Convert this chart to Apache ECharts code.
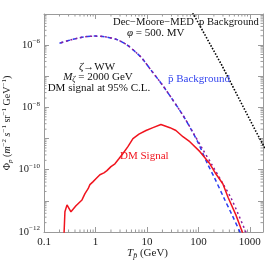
<!DOCTYPE html>
<html>
<head>
<meta charset="utf-8">
<script src="https://cdn.jsdelivr.net/npm/echarts@6/dist/echarts.min.js"></script>
<style>html,body{margin:0;padding:0;background:#fff}#c{width:267px;height:263px}</style>
</head>
<body>
<div id="c"></div>
<script>
// ---- data (energies in GeV, flux as log10 of value) ----
var bgE     = [0.2, 0.3, 0.5, 0.7, 1.0, 1.5, 2.5, 4, 6, 8, 12.5, 20, 30, 50, 76, 100, 153, 200, 320, 450, 668, 900];
var bgLog   = [-5.94, -5.85, -5.76, -5.72, -5.71, -5.73, -5.81, -5.98, -6.22, -6.42, -6.84, -7.28, -7.70, -8.25, -8.77, -9.15, -9.84, -10.22, -10.94, -11.45, -12.06, -12.5];
var totE    = [0.2, 0.3, 0.5, 0.7, 1.0, 1.5, 2.5, 4, 6, 8, 12.5, 20, 30, 50, 76, 120, 183, 300, 440, 863, 1000];
var totLog  = [-5.94, -5.85, -5.76, -5.72, -5.71, -5.73, -5.81, -5.98, -6.22, -6.42, -6.84, -7.28, -7.70, -8.25, -8.76, -9.33, -9.84, -10.45, -10.94, -12.06, -12.35];
var dmE     = [0.24, 0.245, 0.255, 0.28, 0.306, 0.334, 0.365, 0.418, 0.456, 0.547, 0.625, 0.72, 0.78, 0.89, 1.02, 1.22, 1.46, 1.67, 2.0, 2.39, 2.85, 3.42, 4.27, 5.35, 7, 9.6, 13.1, 18.7, 28, 36.6, 50, 68, 107, 167, 218, 298, 380, 535, 735, 800];
var dmLog   = [-12.6, -12.06, -11.35, -11.13, -11.19, -11.35, -11.29, -11.16, -11.10, -10.97, -10.77, -10.61, -10.48, -10.39, -10.29, -10.16, -10.10, -10.03, -9.90, -9.81, -9.65, -9.48, -9.26, -9.0, -8.86, -8.74, -8.65, -8.55, -8.65, -8.74, -8.94, -9.10, -9.42, -9.81, -10.13, -10.45, -10.90, -11.45, -12.06, -12.4];
var pE      = [50, 78, 286, 1310, 2000];
var pLog    = [-4.45, -4.97, -6.65, -8.77, -9.33];
var xMinorTicks = [0.2,0.3,0.4,0.5,0.6,0.7,0.8,0.9, 2,3,4,5,6,7,8,9, 20,30,40,50,60,70,80,90, 200,300,400,500,600,700,800,900];
var yDecades = [-12,-11,-10,-9,-8,-7,-6];
var yMinorMult = [2,3,4,5,6,7,8,9];

function pairs(xs, ls){ return xs.map(function(x,i){ return [x, Math.pow(10, ls[i])]; }); }

var minorData = [];
xMinorTicks.forEach(function(v){ minorData.push([v, 1e-12, 0]); });
yDecades.forEach(function(d){ yMinorMult.forEach(function(m){ minorData.push([0.1, m*Math.pow(10,d), 1]); }); });

var SERIF = '"Liberation Serif", "DejaVu Serif", serif';
var FRAME = '#9a9a9a';
var chart = echarts.init(document.getElementById('c'));

function isPow10(v){ var l = Math.log10(v); return Math.abs(l - Math.round(l)) < 1e-6; }

var axX = {
  type: 'log', logBase: 10, min: 0.1, max: 1800,
  axisLine: {show: true, lineStyle: {color: FRAME, width: 1}},
  axisTick: {show: true, inside: true, length: 5, lineStyle: {color: FRAME}},
  splitLine: {show: false}
};
var axY = {
  type: 'log', logBase: 10, min: 1e-12, max: 1e-5, interval: 1,
  axisLine: {show: true, lineStyle: {color: FRAME, width: 1}},
  axisTick: {show: true, inside: true, length: 5, lineStyle: {color: FRAME}},
  splitLine: {show: false}
};

chart.setOption({
  animation: false,
  backgroundColor: '#fff',
  grid: {left: 44, right: 4, top: 14, bottom: 31, containLabel: false, outerBoundsMode: 'none'},
  xAxis: [
    Object.assign({}, axX, {
      position: 'bottom',
      axisLabel: {show: true, margin: 5, fontFamily: SERIF, fontSize: 11, color: '#222',
        formatter: function(v){ return isPow10(v) ? String(+v.toPrecision(3)) : ''; }},
      name: '{i|T}{sub|p\u0304} (GeV)', nameLocation: 'middle', nameGap: 14, nameMoveOverlap: false,
      nameTextStyle: {fontFamily: SERIF, fontSize: 11, color: '#222', padding: [0, 12, 0, 0],
        rich: {i: {fontFamily: SERIF, fontSize: 11, fontStyle: 'italic', color: '#222'},
               sub: {fontFamily: SERIF, fontSize: 8, fontStyle: 'italic', color: '#222', padding: [6, 0, 0, 0]}}}
    }),
    Object.assign({}, axX, {position: 'top', axisLabel: {show: false}})
  ],
  yAxis: [
    Object.assign({}, axY, {
      position: 'left',
      axisLabel: {show: true, margin: 4, fontFamily: SERIF, fontSize: 10.5, color: '#222',
        formatter: function(v){ var e = Math.round(Math.log10(v)); return (e % 2 === 0) ? '{b|10}{s|\u2212' + (-e) + '}' : ''; },
        rich: {b: {fontFamily: SERIF, fontSize: 10.5, color: '#222'},
               s: {fontFamily: SERIF, fontSize: 7, color: '#222', padding: [0, 0, 7, 0]}}},
      name: '{b|\u03A6}{sub|p\u0304} ({i|m}{s|\u22122} {i|s}{s|\u22121} sr{s|\u22121} GeV{s|\u22121})',
      nameLocation: 'middle', nameRotate: 90, nameGap: 30, nameMoveOverlap: false,
      nameTextStyle: {fontFamily: SERIF, fontSize: 10, color: '#222',
        rich: {b: {fontFamily: SERIF, fontSize: 10, color: '#222'},
               i: {fontFamily: SERIF, fontSize: 10, fontStyle: 'italic', color: '#222'},
               sub: {fontFamily: SERIF, fontSize: 7, fontStyle: 'italic', color: '#222', padding: [6, 0, 0, 0]},
               s: {fontFamily: SERIF, fontSize: 7, color: '#222', padding: [0, 0, 6, 0]}}}
    }),
    Object.assign({}, axY, {position: 'right', axisLabel: {show: false}})
  ],
  series: [
    {
      type: 'custom', coordinateSystem: 'cartesian2d', xAxisIndex: 0, yAxisIndex: 0,
      silent: true, clip: false, z: 1, data: minorData,
      renderItem: function(params, api){
        var kind = api.value(2);
        var cs = params.coordSys;
        if (kind === 0) {
          var x = api.coord([api.value(0), 1e-12])[0];
          return {type: 'group', children: [
            {type: 'line', shape: {x1: x, y1: cs.y + cs.height, x2: x, y2: cs.y + cs.height - 2.5}, style: {stroke: FRAME, lineWidth: 1}},
            {type: 'line', shape: {x1: x, y1: cs.y, x2: x, y2: cs.y + 2.5}, style: {stroke: FRAME, lineWidth: 1}}
          ]};
        } else {
          var y = api.coord([0.1, api.value(1)])[1];
          return {type: 'group', children: [
            {type: 'line', shape: {x1: cs.x, y1: y, x2: cs.x + 2.5, y2: y}, style: {stroke: FRAME, lineWidth: 1}},
            {type: 'line', shape: {x1: cs.x + cs.width, y1: y, x2: cs.x + cs.width - 2.5, y2: y}, style: {stroke: FRAME, lineWidth: 1}}
          ]};
        }
      }
    },
    {
      name: 'p background', type: 'line', data: pairs(pE, pLog), showSymbol: false, clip: true, z: 3,
      lineStyle: {color: '#000', width: 1.6, type: [1.5, 1.6]}
    },
    {
      name: 'pbar background', type: 'line', data: pairs(bgE, bgLog), showSymbol: false, smooth: 0.3, clip: true, z: 3,
      lineStyle: {color: '#2a3cf0', width: 1.5, type: [4, 3]}
    },
    {
      name: 'total', type: 'line', data: pairs(totE, totLog), showSymbol: false, smooth: 0.3, clip: true, z: 4,
      lineStyle: {color: '#8a1fa0', width: 1.5, type: [2, 3], dashOffset: 3.5}
    },
    {
      name: 'DM signal', type: 'line', data: pairs(dmE, dmLog), showSymbol: false, clip: true, z: 5,
      lineStyle: {color: '#f0141e', width: 1.5}
    }
  ],
  graphic: [
    {type: 'text', left: 113, top: 17, z: 10, style: {text: 'Dec\u2212Moore\u2212MED  p Background', font: '10.6px ' + SERIF, fill: '#111'}},
    {type: 'text', left: 127, top: 28, z: 10, style: {text: '{i|\u03C6} = 500. MV', font: '11px ' + SERIF, fill: '#111',
      rich: {i: {fontFamily: SERIF, fontSize: 11, fontStyle: 'italic', fill: '#111'}}}},
    {type: 'text', x: 97, y: 67, z: 10, style: {text: '{i|\u03B6}\u2192WW', font: '11px ' + SERIF, fill: '#111', align: 'center', verticalAlign: 'middle',
      rich: {i: {fontFamily: SERIF, fontSize: 11, fontStyle: 'italic', fill: '#111'}}}},
    {type: 'text', x: 98, y: 77, z: 10, style: {text: '{i|M}{sub|\u03B6} = 2000 GeV', font: '11px ' + SERIF, fill: '#111', align: 'center', verticalAlign: 'middle',
      rich: {i: {fontFamily: SERIF, fontSize: 11, fontStyle: 'italic', fill: '#111'},
             sub: {fontFamily: SERIF, fontSize: 8, fontStyle: 'italic', fill: '#111', padding: [5, 0, 0, 0]}}}},
    {type: 'text', x: 99, y: 88, z: 10, style: {text: 'DM signal at 95% C.L.', font: '11px ' + SERIF, fill: '#111', align: 'center', verticalAlign: 'middle'}},
    {type: 'text', x: 168, y: 79, z: 10, style: {text: 'p\u0304 Background', font: '11px ' + SERIF, fill: '#3344ee', verticalAlign: 'middle'}},
    {type: 'text', x: 120, y: 156, z: 10, style: {text: 'DM Signal', font: '11px ' + SERIF, fill: '#f0141e', verticalAlign: 'middle'}}
  ]
});
</script>
</body>
</html>
